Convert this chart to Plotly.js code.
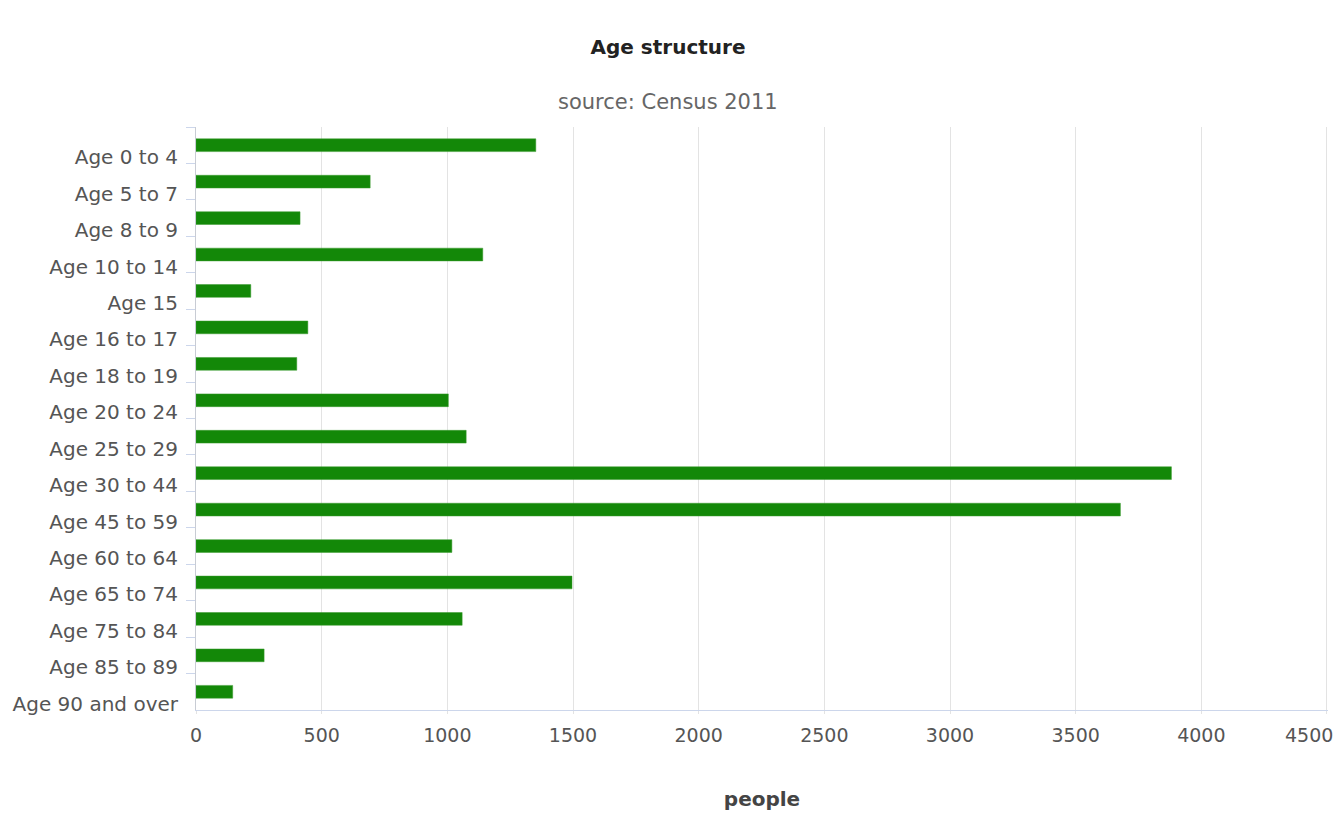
<!DOCTYPE html>
<html>
<head>
<meta charset="utf-8">
<script src="https://cdn.plot.ly/plotly-3.0.1.min.js"></script>
<style>html,body{margin:0;padding:0;background:#fff;}#chart{width:1336px;height:814px;}</style>
</head>
<body>
<div id="chart"></div>
<script>
const categories = ["Age 0 to 4","Age 5 to 7","Age 8 to 9","Age 10 to 14","Age 15","Age 16 to 17","Age 18 to 19","Age 20 to 24","Age 25 to 29","Age 30 to 44","Age 45 to 59","Age 60 to 64","Age 65 to 74","Age 75 to 84","Age 85 to 89","Age 90 and over"];
const people = [1352, 693, 414, 1141, 218, 445, 401, 1004, 1075, 3881, 3678, 1018, 1496, 1059, 271, 146];
const xTicks = [0, 500, 1000, 1500, 2000, 2500, 3000, 3500, 4000, 4500];
const titleText = "Age structure";
const subtitleText = "source: Census 2011";
const xTitle = "people";

const FONT = "DejaVu Sans, Verdana, sans-serif";
const lastTick = xTicks[xTicks.length - 1];

const trace = {
  type: 'bar',
  orientation: 'h',
  x: people,
  y: categories,
  width: 0.35,
  marker: {color: '#138808', line: {color: '#3a9a2e', width: 0.5}},
  hoverinfo: 'x+y'
};

const layout = {
  width: 1336, height: 814,
  margin: {l: 196, r: 8, t: 127, b: 104},
  paper_bgcolor: '#ffffff', plot_bgcolor: '#ffffff',
  showlegend: false,
  font: {family: FONT, size: 20, color: '#666666'},
  title: {
    text: '<b>' + titleText + '</b>',
    font: {family: FONT, size: 20, color: '#222222'},
    x: 0.5, xref: 'container', xanchor: 'center',
    y: 1 - 47/814, yref: 'container', yanchor: 'middle'
  },
  annotations: [{
    text: subtitleText, showarrow: false,
    xref: 'paper', yref: 'paper',
    x: (668 - 196) / 1132, y: 1 + (127 - 102) / 583,
    xanchor: 'center', yanchor: 'middle',
    font: {family: FONT, size: 21, color: '#666666'}
  }, {
    // last x tick label, pulled inside the page like the reference
    text: String(lastTick), showarrow: false,
    xref: 'x', yref: 'paper',
    x: lastTick, y: 0,
    xanchor: 'right', yanchor: 'middle',
    xshift: 8, yshift: -25,
    font: {family: FONT, size: 19, color: '#555555'}
  }],
  xaxis: {
    range: [0, 4504],
    tickvals: xTicks,
    ticktext: xTicks.map(v => v === lastTick ? '' : String(v)),
    showgrid: true, gridcolor: '#e3e3e3', gridwidth: 1,
    zeroline: false,
    showline: true, linecolor: '#ccd6eb', linewidth: 1,
    ticks: 'outside', ticklen: 3, tickcolor: '#e3e3e3',
    ticklabelstandoff: 5,
    tickfont: {family: FONT, size: 19, color: '#555555'},
    title: {text: '<b>' + xTitle + '</b>', standoff: 47, font: {family: FONT, size: 20, color: '#444444'}},
    fixedrange: true
  },
  yaxis: {
    type: 'category',
    range: [15.5, -0.5],
    tickson: 'boundaries',
    ticks: 'outside', ticklen: 9, tickcolor: '#ccd6eb',
    showgrid: false, zeroline: false,
    showline: true, linecolor: '#c8ccd4', linewidth: 1,
    ticklabelshift: -12,
    ticklabelstandoff: 13,
    tickfont: {family: FONT, size: 20, color: '#555555'},
    fixedrange: true
  }
};

Plotly.newPlot('chart', [trace], layout, {displayModeBar: false, staticPlot: true});
</script>
</body>
</html>
